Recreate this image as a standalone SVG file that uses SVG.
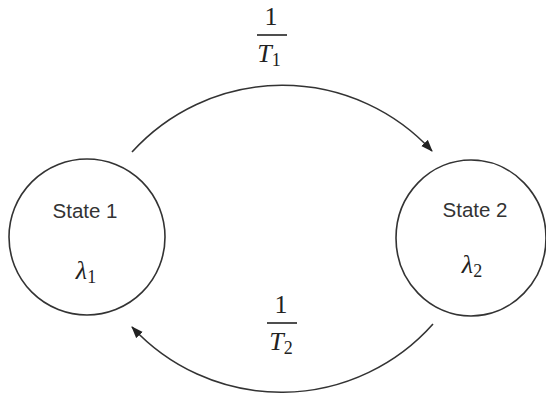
<svg xmlns="http://www.w3.org/2000/svg" width="546" height="400" viewBox="0 0 546 400">
<defs>
<style>
.node{fill:#fff;stroke:#333;stroke-width:1.6}
.lbl{font-family:"Liberation Sans",Arial,sans-serif;font-size:20.5px;fill:#333;text-anchor:middle}
.math{font-family:"Liberation Serif","Times New Roman",serif;font-size:26px;fill:#222;text-anchor:middle}
.it{font-style:italic}
.sub{font-size:18px}
.edge{fill:none;stroke:#333;stroke-width:1.6}
.bar{stroke:#222;stroke-width:1.6}
</style>
<marker id="arr" viewBox="0 0 12 10" refX="11" refY="5" markerWidth="12" markerHeight="10" markerUnits="userSpaceOnUse" orient="auto">
<path d="M0,0.5 L12,5 L0,9.5 Z" fill="#222"/>
</marker>
</defs>
<rect width="546" height="400" fill="#fff"/>
<g id="state1">
<circle class="node" cx="87" cy="237" r="78"/>
<text class="lbl" x="85" y="218">State 1</text>
<text class="math" x="86" y="279"><tspan class="it">λ</tspan><tspan class="sub" dy="4">1</tspan></text>
</g>
<g id="state2">
<ellipse class="node" cx="471" cy="238" rx="75" ry="78"/>
<text class="lbl" x="475" y="217">State 2</text>
<text class="math" x="472" y="273"><tspan class="it">λ</tspan><tspan class="sub" dy="4">2</tspan></text>
</g>
<g id="connectors">
<path class="edge" d="M132,152 A203,203 0 0 1 432,151" marker-end="url(#arr)"/>
<path class="edge" d="M433,324 A203,203 0 0 1 132,327" marker-end="url(#arr)"/>
</g>
<g id="label1">
<text class="math" x="271" y="25">1</text>
<line class="bar" x1="257" y1="35" x2="287" y2="35"/>
<text class="math" x="269" y="62"><tspan class="it">T</tspan><tspan class="sub" dy="4">1</tspan></text>
</g>
<g id="label2">
<text class="math" x="281" y="313">1</text>
<line class="bar" x1="267" y1="323" x2="297" y2="323"/>
<text class="math" x="281" y="350"><tspan class="it">T</tspan><tspan class="sub" dy="4">2</tspan></text>
</g>
</svg>
